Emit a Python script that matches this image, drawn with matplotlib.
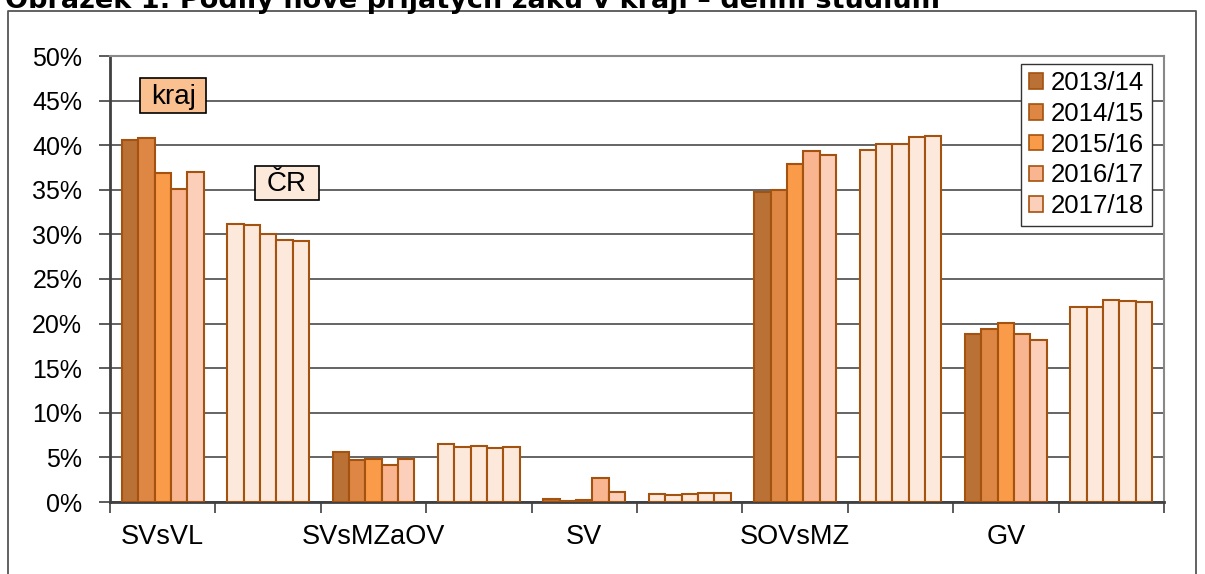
import matplotlib
matplotlib.use("Agg")
import matplotlib.pyplot as plt
from matplotlib.patches import Patch, Rectangle
from matplotlib.lines import Line2D
import numpy as np

plt.rcParams['font.family'] = ['Liberation Sans', 'DejaVu Sans']

years = ["2013/14", "2014/15", "2015/16", "2016/17", "2017/18"]
categories = ["SVsVL", "", "SVsMZaOV", "", "SV", "", "SOVsMZ", "", "GV", ""]
# values in % per category (kraj, ČR alternating), per year
kraj_SVsVL = [40.6, 40.8, 36.9, 35.1, 37.0]
cr_SVsVL = [31.2, 31.0, 30.1, 29.4, 29.3]
kraj_SVsMZaOV = [5.6, 4.7, 4.8, 4.2, 4.85]
cr_SVsMZaOV = [6.45, 6.2, 6.3, 6.1, 6.2]
kraj_SV = [0.35, 0.15, 0.25, 2.65, 1.1]
cr_SV = [0.95, 0.8, 0.9, 1.05, 1.05]
kraj_SOVsMZ = [34.8, 34.95, 37.85, 39.4, 38.85]
cr_SOVsMZ = [39.5, 40.15, 40.1, 40.95, 41.0]
kraj_GV = [18.8, 19.4, 20.1, 18.8, 18.2]
cr_GV = [21.9, 21.85, 22.6, 22.5, 22.45]

groups = [kraj_SVsVL, cr_SVsVL, kraj_SVsMZaOV, cr_SVsMZaOV, kraj_SV, cr_SV,
          kraj_SOVsMZ, cr_SOVsMZ, kraj_GV, cr_GV]

year_colors = ["#BA7135", "#DE8744", "#F99B48", "#F9B58F", "#FBCFB9"]
cr_color = "#FDE9DB"
edge = "#A3520F"

W, H = 1205, 574
fig = plt.figure(figsize=(W / 100, H / 100), dpi=100)
ax = fig.add_axes([110 / W, 1 - 502 / H, (1164 - 110) / W, (502 - 56) / H])

bw = 0.155
for ci, vals in enumerate(groups):
    is_cr = ci % 2 == 1
    for j, v in enumerate(vals):
        ax.bar(ci + (j - 2) * bw, v, width=bw,
               color=cr_color if is_cr else year_colors[j],
               edgecolor=edge, linewidth=1.5, zorder=3)

ax.set_xlim(-0.5, 9.5)
ax.set_ylim(0, 50)
ax.set_yticks(np.arange(0, 51, 5))
ax.set_yticklabels([f"{v}%" for v in range(0, 51, 5)], fontsize=18)
ax.yaxis.grid(True, color="#3a3a3a", linewidth=1.1, zorder=0)
ax.set_axisbelow(True)

ax.set_xticks(np.arange(len(categories)))
ax.set_xticklabels(categories, fontsize=19.5)
ax.tick_params(axis='x', which='major', length=0, pad=16)
ax.set_xticks(np.arange(-0.5, 10, 1), minor=True)
ax.tick_params(axis='x', which='minor', length=8, width=1.2, color="#404040", direction='out')
ax.tick_params(axis='y', length=8, width=1.2, color="#404040", direction='out', pad=12)

for s in ["left", "bottom"]:
    ax.spines[s].set_color("#404040")
    ax.spines[s].set_linewidth(2)
for s in ["right", "top"]:
    ax.spines[s].set_color("#888888")
    ax.spines[s].set_linewidth(1.5)

# kraj / ČR labels
ax.add_patch(Rectangle((-0.215, 43.6), 0.626, 3.9, facecolor="#FAC090",
                       edgecolor="black", linewidth=1.2, zorder=4))
ax.text(0.105, 45.35, "kraj", fontsize=20, ha="center", va="center", zorder=5)
ax.add_patch(Rectangle((0.876, 33.85), 0.607, 3.81, facecolor="#FDE9D9",
                       edgecolor="black", linewidth=1.2, zorder=4))
ax.text(1.18, 35.6, "ČR", fontsize=20, ha="center", va="center", zorder=5)

handles = [Patch(facecolor=c, edgecolor=edge, linewidth=1.2) for c in year_colors]
leg = ax.legend(handles, years, loc="upper right", bbox_to_anchor=(0.9886, 0.983),
                fontsize=18.5, frameon=True, fancybox=False, framealpha=1,
                edgecolor="#333333", handlelength=0.55, handleheight=0.55,
                handletextpad=0.3, labelspacing=0.26, borderpad=0.3,
                borderaxespad=0)
leg.get_frame().set_linewidth(1.0)
leg.set_zorder(6)

# outer frame
fig.add_artist(Line2D([8 / W, 8 / W, 1196 / W, 1196 / W], [0, 1 - 11 / H, 1 - 11 / H, 0],
                      transform=fig.transFigure, color="#555555", linewidth=1.3))

# title (cropped at top, as in the reference)
fig.text(5 / W, 1 - 8 / H, "Obrázek 1: Podíly nově přijatých žáků v kraji – denní studium",
         fontsize=19.5, fontweight="bold", family="DejaVu Sans", ha="left", va="baseline")

fig.savefig("out.png", dpi=100)
